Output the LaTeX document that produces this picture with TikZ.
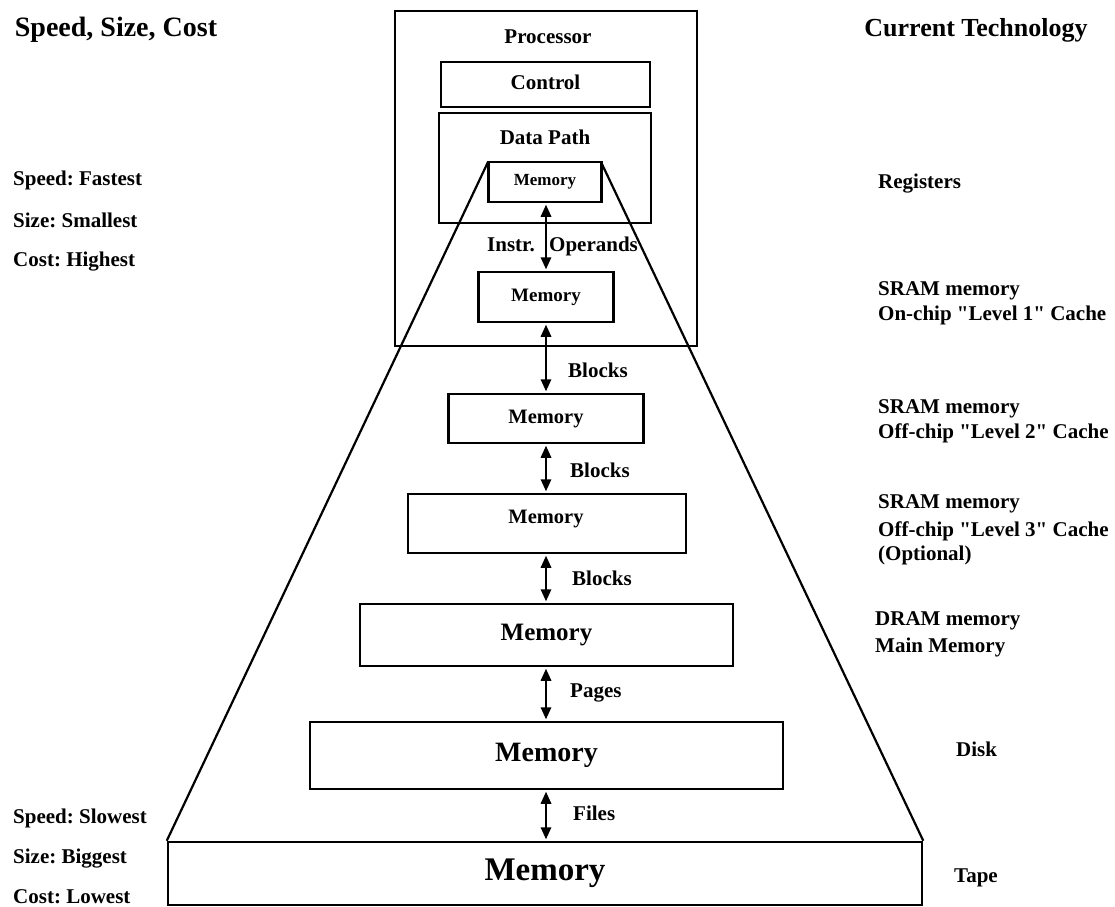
\documentclass[tikz,border=0pt]{standalone}
\usepackage{fontspec}
\setmainfont{Liberation Serif}[Ligatures=TeXOff]
\usetikzlibrary{arrows.meta}
\tikzset{
  box/.style={draw, line width=2.5pt, inner sep=0pt},
  fs/.style={font=\fontsize{#1}{#1}\selectfont\bfseries\frenchspacing},
  lbl/.style={fs=21, inner sep=0pt},
  lw/.style={lbl, anchor=base west},
  arr/.style={{Triangle[length=12pt,width=10.5pt]}-{Triangle[length=12pt,width=10.5pt]}, line width=1.7pt, shorten <=1.5pt, shorten >=1.5pt},
  trap/.style={line width=2.2pt}
}
\begin{document}
\begin{tikzpicture}[x=1pt,y=-1pt]
\useasboundingbox (0,0) rectangle (1115,906);
% processor and its parts
\node[box, minimum width=302pt, minimum height=335pt] (proc) at (546,178.5) {};
\node[box, minimum width=209pt, minimum height=45pt] (ctrl) at (545.5,84.5) {};
\node[box, minimum width=212pt, minimum height=110pt] (dp) at (545,168) {};
\node[lbl, anchor=base] (tproc) at (548,43) {Processor};
\node[lbl, anchor=base] (tctrl) at (545.5,89) {Control};
\node[lbl, anchor=base] (tdp) at (545,144) {Data Path};
% levels
\node[box, minimum width=754pt, minimum height=63pt, fs=33] (tape) at (545,873.5) {Memory};
% trapezoid
\coordinate (rnw) at (488,162);
\coordinate (rne) at (601,162);
\draw[trap] (rnw) -- (tape.north west);
\draw[trap] (rne) -- (tape.north east);
\node[box, fill=white, minimum width=113pt, minimum height=40pt, fs=17] (reg) at (545,182) {Memory};
\node[box, fill=white, minimum width=135pt, minimum height=50pt, fs=19] (l1) at (546,297) {Memory};
\node[box, fill=white, minimum width=195pt, minimum height=49pt, fs=20.5] (l2) at (546,418.5) {Memory};
\node[box, fill=white, minimum width=278pt, minimum height=59pt] (l3) at (547,523.5) {};
\node[fs=20.5, inner sep=0pt, anchor=base] (tl3) at (546,523) {Memory};
\node[box, fill=white, minimum width=373pt, minimum height=62pt, fs=25] (mm) at (546.5,635) {Memory};
\node[box, fill=white, minimum width=473pt, minimum height=67pt, fs=28] (disk) at (546.5,755.5) {Memory};
% arrows (vertical at x = 546)
\coordinate (ax) at (546,0);
\draw[arr] (reg.south -| ax) -- (l1.north -| ax);
\draw[arr] (l1.south -| ax) -- (l2.north -| ax);
\draw[arr] (l2.south -| ax) -- (l3.north -| ax);
\draw[arr] (l3.south -| ax) -- (mm.north -| ax);
\draw[arr] (mm.south -| ax) -- (disk.north -| ax);
\draw[arr] (disk.south -| ax) -- (tape.north -| ax);
% arrow labels
\node[lw] (instr) at (487,251) {Instr.};
\node[lw] (oper) at (549,251) {Operands};
\node[lw] (b1) at (568,377) {Blocks};
\node[lw] (b2) at (570,477) {Blocks};
\node[lw] (b3) at (572,585) {Blocks};
\node[lw] (pg) at (570,697) {Pages};
\node[lw] (fl) at (573,820) {Files};
% headers
\node[fs=28, inner sep=0pt, anchor=base] (hl) at (116,36) {Speed, Size, Cost};
\node[fs=26, inner sep=0pt, anchor=base] (hr) at (976,36) {Current Technology};
% left column
\node[lw] (s1) at (13,185) {Speed: Fastest};
\node[lw] (s2) at (13,227) {Size: Smallest};
\node[lw] (s3) at (13,266) {Cost: Highest};
\node[lw] (s4) at (13,823) {Speed: Slowest};
\node[lw] (s5) at (13,863) {Size: Biggest};
\node[lw] (s6) at (13,903) {Cost: Lowest};
% right column
\node[lw] (r1) at (878,188) {Registers};
\node[lw] (r2a) at (878,295) {SRAM memory};
\node[lw] (r2b) at (878,320) {On-chip "Level 1" Cache};
\node[lw] (r3a) at (878,413) {SRAM memory};
\node[lw] (r3b) at (878,438) {Off-chip "Level 2" Cache};
\node[lw] (r4a) at (878,508) {SRAM memory};
\node[lw] (r4b) at (878,536) {Off-chip "Level 3" Cache};
\node[lw] (r4c) at (878,560) {(Optional)};
\node[lw] (r5a) at (875,625) {DRAM memory};
\node[lw] (r5b) at (875,652) {Main Memory};
\node[lw] (r6) at (956,756) {Disk};
\node[lw] (r7) at (954,882) {Tape};
\end{tikzpicture}
\end{document}
